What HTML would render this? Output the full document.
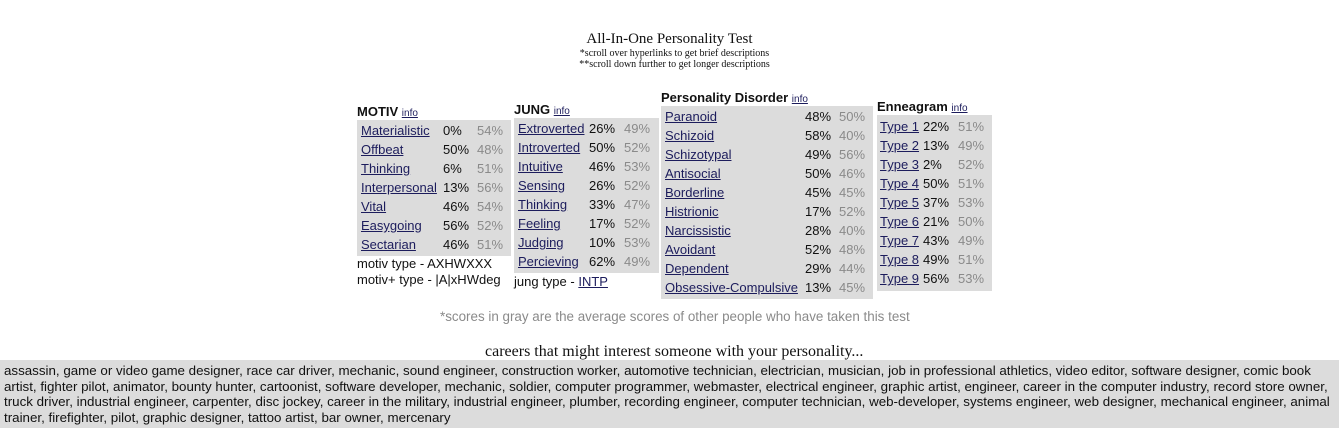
<!DOCTYPE html>
<html><head><meta charset="utf-8"><style>
body{margin:0;width:1339px;height:444px;background:#fff;position:relative;overflow:hidden;font-family:"Liberation Sans",Arial,sans-serif;font-size:13px;color:#111}
.a{position:absolute;white-space:nowrap}
.serif{font-family:"Liberation Serif",serif}
.box{position:absolute;background:#dcdcdc}
a{color:#1c1c5c;text-decoration:underline}
.h{font-weight:bold;font-size:13px}
.h a{font-weight:normal;font-size:10px}
.g{color:#8a8a8a}
</style></head><body>
<div class="a serif" style="left:0;width:1339px;text-align:center;top:31px;font-size:15px">All-In-One Personality Test</div>
<div class="a serif" style="left:0;width:1349px;text-align:center;top:48px;font-size:10px">*scroll over hyperlinks to get brief descriptions</div>
<div class="a serif" style="left:0;width:1349px;text-align:center;top:59px;font-size:10px">**scroll down further to get longer descriptions</div>

<div class="box" style="left:357px;top:120px;width:154px;height:136px"></div>
<div class="box" style="left:514px;top:118px;width:145px;height:155px"></div>
<div class="box" style="left:661px;top:106px;width:212px;height:193px"></div>
<div class="box" style="left:877px;top:115px;width:115px;height:176px"></div>

<div id="t"></div>

<div class="a g" style="left:440px;top:309px;font-size:13.4px">*scores in gray are the average scores of other people who have taken this test</div>
<div class="a serif" style="left:485px;top:343px;font-size:16px">careers that might interest someone with your personality...</div>
<div class="box" style="left:0;top:360px;width:1339px;height:68px"></div>
<div class="a" style="left:4px;top:363px;width:1335px;white-space:normal;line-height:15.5px;font-size:13.35px">assassin, game or video game designer, race car driver, mechanic, sound engineer, construction worker, automotive technician, electrician, musician, job in professional athletics, video editor, software designer, comic book artist, fighter pilot, animator, bounty hunter, cartoonist, software developer, mechanic, soldier, computer programmer, webmaster, electrical engineer, graphic artist, engineer, career in the computer industry, record store owner, truck driver, industrial engineer, carpenter, disc jockey, career in the military, industrial engineer, plumber, recording engineer, computer technician, web-developer, systems engineer, web designer, mechanical engineer, animal trainer, firefighter, pilot, graphic designer, tattoo artist, bar owner, mercenary</div>

<script>
const motivLabels=["Materialistic","Offbeat","Thinking","Interpersonal","Vital","Easygoing","Sectarian"];
const motivScores=["0%","50%","6%","13%","46%","56%","46%"];
const motivAvg=["54%","48%","51%","56%","54%","52%","51%"];
const jungLabels=["Extroverted","Introverted","Intuitive","Sensing","Thinking","Feeling","Judging","Percieving"];
const jungScores=["26%","50%","46%","26%","33%","17%","10%","62%"];
const jungAvg=["49%","52%","53%","52%","47%","52%","53%","49%"];
const pdLabels=["Paranoid","Schizoid","Schizotypal","Antisocial","Borderline","Histrionic","Narcissistic","Avoidant","Dependent","Obsessive-Compulsive"];
const pdScores=["48%","58%","49%","50%","45%","17%","28%","52%","29%","13%"];
const pdAvg=["50%","40%","56%","46%","45%","52%","40%","48%","44%","45%"];
const ennLabels=["Type 1","Type 2","Type 3","Type 4","Type 5","Type 6","Type 7","Type 8","Type 9"];
const ennScores=["22%","13%","2%","50%","37%","21%","43%","49%","56%"];
const ennAvg=["51%","49%","52%","51%","53%","50%","49%","51%","53%"];
const T=document.getElementById('t');
function txt(html,x,y,cls){const d=document.createElement('div');d.className='a '+(cls||'');d.style.left=x+'px';d.style.top=y+'px';d.innerHTML=html;T.appendChild(d);return d;}
function table(key,title,hx,hy,labels,scores,avg,lx,vx,gx,y0){
  const h=txt(title+' <a href="#">info</a>',hx,hy,'h');
  
  
  labels.forEach((l,i)=>{const y=y0+i*19;
    const a=txt('<a href="#">'+l+'</a>',lx,y);
    
    
    const s=txt(scores[i],vx,y);
    
    
    const g=txt(avg[i],gx,y,'g');
    
    
  });
}
table('motiv','MOTIV',357,104,motivLabels,motivScores,motivAvg,361,443,477,123);
table('jung','JUNG',514,102,jungLabels,jungScores,jungAvg,518,589,624,121);
table('pd','Personality Disorder',661,90,pdLabels,pdScores,pdAvg,665,805,839,109);
table('enneagram','Enneagram',877,99,ennLabels,ennScores,ennAvg,880,923,958,119);
let e=txt('motiv type - AXHWXXX',357,256);


e=txt('motiv+ type - |A|xHWdeg',357,272);


e=txt('jung type - <a href="#">INTP</a>',514,274);


</script>
</body></html>
